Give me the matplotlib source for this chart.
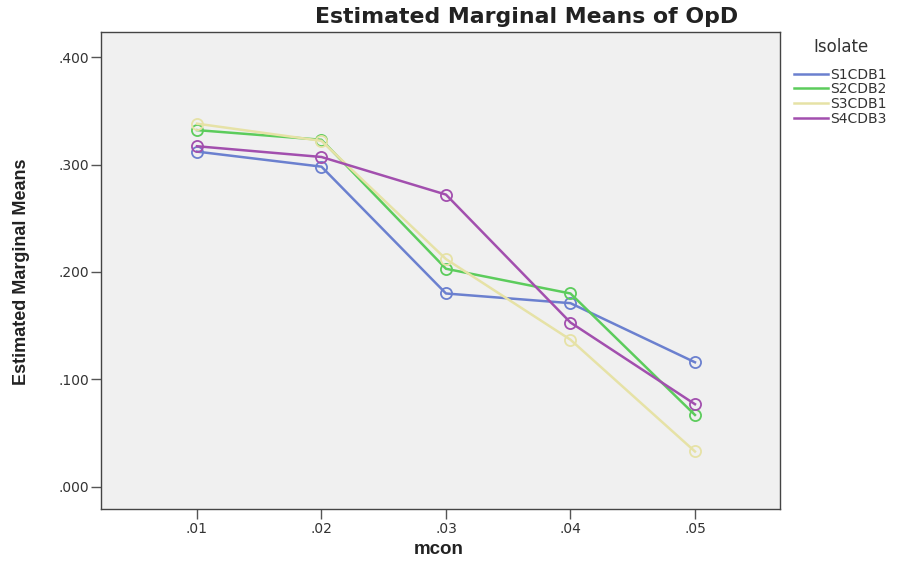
import matplotlib.pyplot as plt
import matplotlib.ticker as mt

plt.rcParams["font.family"] = ["DejaVu Sans"]

mcon = [0.01, 0.02, 0.03, 0.04, 0.05]
xtick_labels = [".01", ".02", ".03", ".04", ".05"]
s1cdb1 = [0.312, 0.298, 0.180, 0.171, 0.116]
s2cdb2 = [0.332, 0.323, 0.203, 0.180, 0.067]
s3cdb1 = [0.338, 0.322, 0.212, 0.137, 0.033]
s4cdb3 = [0.317, 0.307, 0.272, 0.153, 0.077]
series = [("S1CDB1", s1cdb1, "#6b80cf"), ("S2CDB2", s2cdb2, "#5ccc5c"),
          ("S3CDB1", s3cdb1, "#e6e2a6"), ("S4CDB3", s4cdb3, "#a24fae")]
yticks = [0.0, 0.1, 0.2, 0.3, 0.4]

fig = plt.figure(figsize=(9.01, 5.62), dpi=100)
ax = fig.add_axes([0.1121, 0.0943, 0.7536, 0.8488])
ax.set_facecolor("#f0f0f0")
for name, vals, c in series:
    ax.plot(mcon, vals, color=c, lw=1.8, marker="o", ms=8, mfc="none", mec=c, mew=1.3, label=name)

ax.set_xlim(0.00229, 0.05683)
ax.set_ylim(-0.0205, 0.4233)
ax.set_xticks(mcon)
ax.set_xticklabels(xtick_labels)
ax.set_yticks(yticks)
ax.yaxis.set_major_formatter(mt.FuncFormatter(lambda v, p: ("%.3f" % v)[1:] if v >= 0 else "%.3f" % v))
ax.tick_params(direction="out", length=7, width=1, colors="#555555", labelcolor="#333333", labelsize=10)
ax.tick_params(axis="x", pad=2)
ax.tick_params(axis="y", pad=1.5)
for s in ax.spines.values():
    s.set_color("#444444")
    s.set_linewidth(1)

fig.text(0.584, 0.97, "Estimated Marginal Means of OpD", ha="center", va="center",
         fontsize=15.8, fontweight="bold", color="#222222")
fig.text(0.487, 0.023, "mcon", ha="center", va="center",
         fontsize=13.5, fontweight="bold", family=["Liberation Sans"], color="#222222")
fig.text(0.024, 0.516, "Estimated Marginal Means", rotation=90, ha="center", va="center",
         fontsize=13, fontweight="bold", family=["Liberation Sans"], color="#222222")

leg = ax.legend(loc="upper left", bbox_to_anchor=(0.874, 0.944), bbox_transform=fig.transFigure,
                frameon=False, fontsize=10, title="Isolate", title_fontsize=12,
                handlelength=2.4, handletextpad=0.2, labelspacing=0.05, borderpad=0.0)
leg._legend_box.sep = 8
for h in leg.legend_handles:
    h.set_marker("")
for t in leg.get_texts():
    t.set_color("#333333")
leg.get_title().set_color("#333333")

fig.savefig("out.png", dpi=100)
